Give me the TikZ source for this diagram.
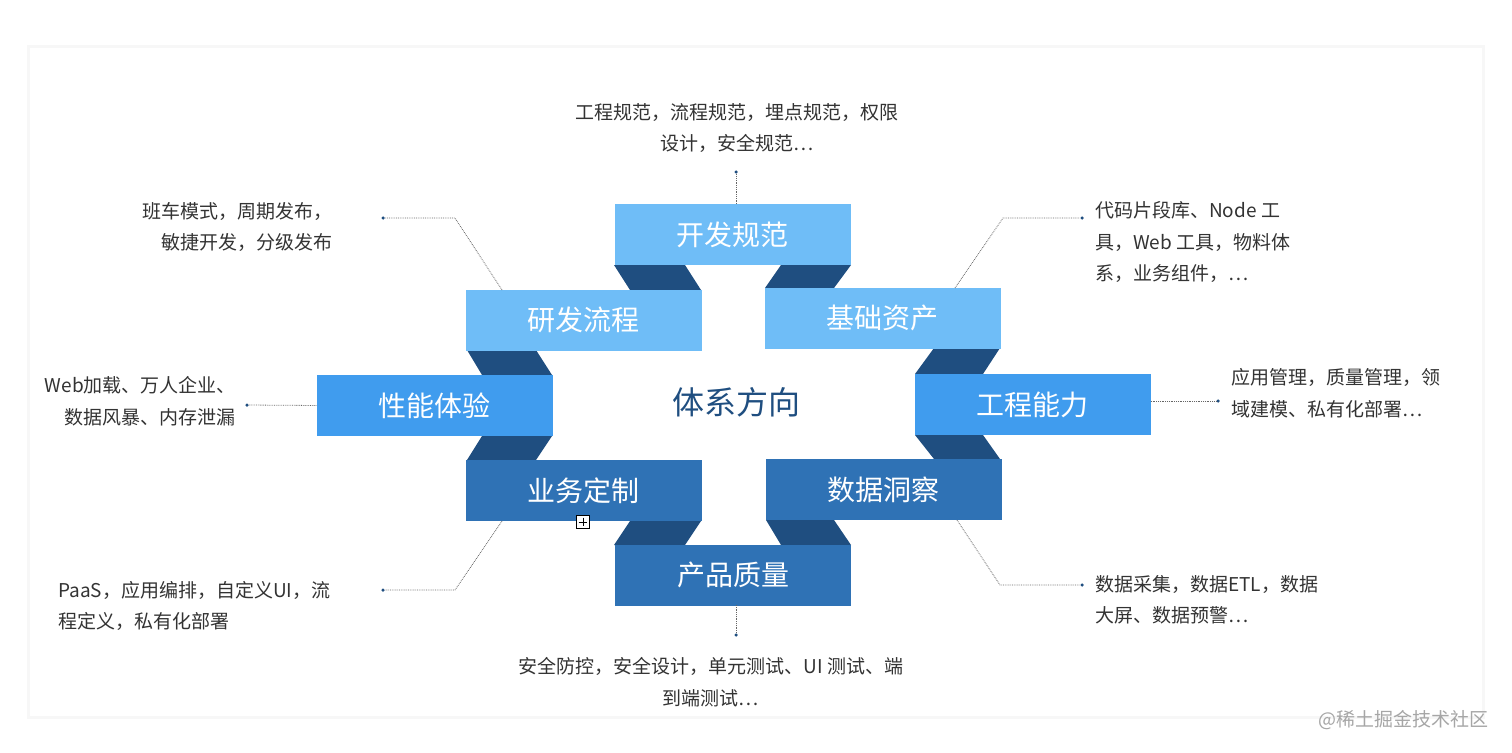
\documentclass[tikz,border=0pt]{standalone}
\usepackage{fontspec}
\usetikzlibrary{calc}
\setmainfont{Noto Sans CJK SC}
\begin{document}
\begin{tikzpicture}[x=1pt,y=-1pt,
  box/.style={minimum width=236pt,minimum height=61pt,inner sep=0pt,text=white,font=\fontsize{28}{30}\selectfont},
  lightb/.style={box,fill=cLight},
  midb/.style={box,fill=cMid},
  darkb/.style={box,fill=cDark},
  fold/.style={fill=cNavy},
  lead/.style={draw=gray!80!black,densely dotted,line width=0.8pt},
  enddot/.style={circle,fill=cNavy,inner sep=0pt,minimum size=3.5pt},
  desc/.style={font=\fontsize{19}{31.5}\selectfont,text=cText,inner sep=0pt}]
\definecolor{cLight}{HTML}{6FBDF7}
\definecolor{cMid}{HTML}{409CEE}
\definecolor{cDark}{HTML}{2F72B5}
\definecolor{cNavy}{HTML}{1F4E80}
\definecolor{cText}{HTML}{333333}
\useasboundingbox (0,0) rectangle (1512,752);
\fill[white] (0,0) rectangle (1512,752);
\fill[gray!6] (27,45) rectangle (1485,719);
\fill[white] (30,48) rectangle (1482,716);
% folds
\fill[fold] (614,265) -- (685,265) -- (701,290) -- (630,290) -- cycle;
\fill[fold] (781,265) -- (851,265) -- (834,288) -- (765,288) -- cycle;
\fill[fold] (467,350) -- (536,350) -- (552,375) -- (482,375) -- cycle;
\fill[fold] (934,348) -- (1000,348) -- (983,374) -- (915,374) -- cycle;
\fill[fold] (482,436) -- (552,436) -- (536,460) -- (467,460) -- cycle;
\fill[fold] (915,435) -- (983,435) -- (1000,459) -- (934,459) -- cycle;
\fill[fold] (630,521) -- (701,521) -- (685,545) -- (614,545) -- cycle;
\fill[fold] (766,520) -- (834,520) -- (851,545) -- (781,545) -- cycle;
% boxes
\node[lightb] (kf) at (732.5,234.5) {开发规范};
\node[lightb] (yf) at (583.5,320) {研发流程};
\node[lightb] (jc) at (882.5,318) {基础资产};
\node[midb] (xn) at (434.5,405.5) {性能体验};
\node[midb] (gc) at (1032.5,404.5) {工程能力};
\node[darkb] (yw) at (583.5,490.5) {业务定制};
\node[darkb] (sj) at (883.5,489.5) {数据洞察};
\node[darkb] (cp) at (733,575) {产品质量};
\node[font=\fontsize{32}{34}\selectfont,text=cNavy] (center) at (736,402) {体系方向};
% leader ends
\node[enddot] (d1) at (736,172) {};
\node[enddot] (d2) at (383,218) {};
\node[enddot] (d3) at (1082,218) {};
\node[enddot] (d4) at (247,405) {};
\node[enddot] (d5) at (1218,401) {};
\node[enddot] (d6) at (383,590) {};
\node[enddot] (d7) at (1082,585) {};
\node[enddot] (d8) at (736,635) {};
\coordinate (b2) at (455,218);
\coordinate (b3) at (1003,218);
\coordinate (b6) at (455,590);
\coordinate (b7) at (1000,585);
\draw[lead] (736,204) -- (d1);
\draw[lead] (502,290) -- (b2) -- (d2);
\draw[lead] (955,288) -- (b3) -- (d3);
\draw[lead] (xn.west) -- (d4);
\draw[lead] (gc.east |- d5) -- (d5);
\draw[lead] (502,521) -- (b6) -- (d6);
\draw[lead] (957,520) -- (b7) -- (d7);
\draw[lead] (736,605) -- (d8);
% descriptions
\node[desc,align=center] (t1) at (737,128) {工程规范，流程规范，埋点规范，权限\\设计，安全规范…};
\node[desc,align=right,anchor=east] (t2) at (333,227) {班车模式，周期发布，\\敏捷开发，分级发布};
\node[desc,align=left,anchor=west] (t3) at (1095,242) {代码片段库、Node 工\\具，Web 工具，物料体\\系，业务组件，…};
\node[desc,align=right,anchor=east] (t4) at (236,401) {Web加载、万人企业、\\数据风暴、内存泄漏};
\node[desc,align=left,anchor=west] (t5) at (1231,393) {应用管理，质量管理，领\\域建模、私有化部署…};
\node[desc,align=left,anchor=west] (t6) at (58,606) {PaaS，应用编排，自定义UI，流\\程定义，私有化部署};
\node[desc,align=left,anchor=west] (t7) at (1095,600) {数据采集，数据ETL，数据\\大屏、数据预警…};
\node[desc,align=center] (t8) at (711,682) {安全防控，安全设计，单元测试、UI 测试、端\\到端测试…};
% small icon
\node[draw=black,fill=white,minimum size=13pt,inner sep=0pt,line width=0.8pt] (ic) at (583,522) {};
\draw[line width=0.8pt] ($(ic.north)+(0,2.5)$) -- ($(ic.south)+(0,-2.5)$);
\draw[line width=0.8pt] ($(ic.west)+(2.5,0)$) -- ($(ic.east)+(-2.5,0)$);
\node[font=\fontsize{19}{20}\selectfont,text=gray!70,anchor=east] (wm) at (1492,720) {@稀土掘金技术社区};
\end{tikzpicture}
\end{document}
